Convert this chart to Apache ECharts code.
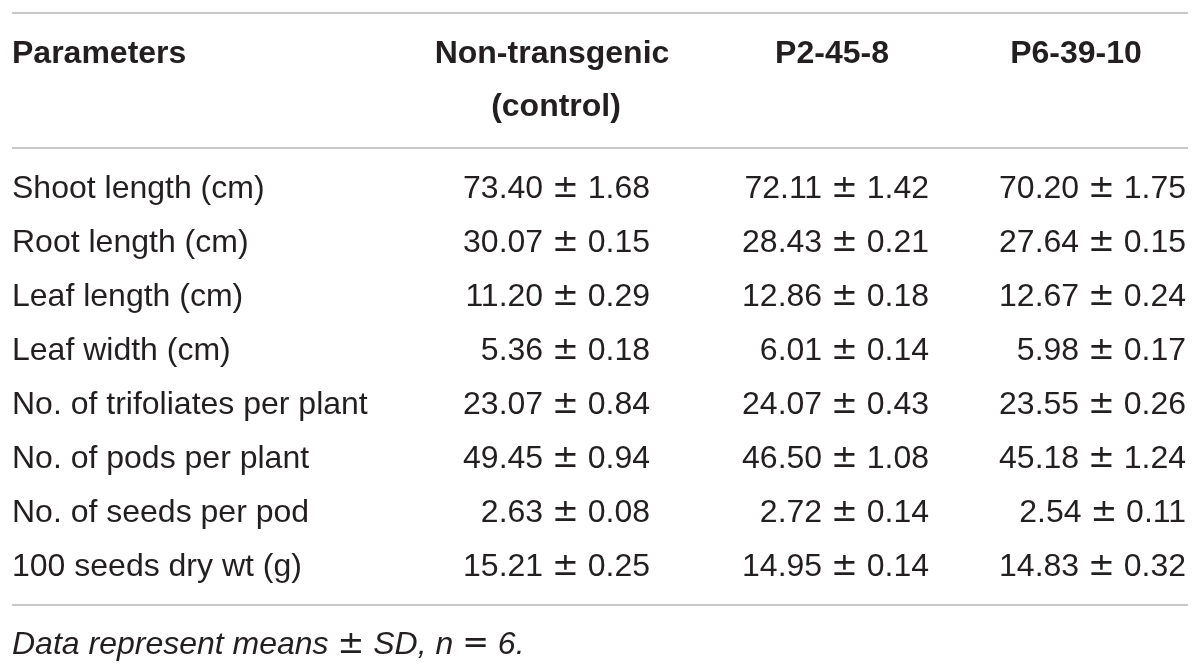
<!DOCTYPE html>
<html>
<head>
<meta charset="utf-8">
<title>Table</title>
<script src="https://cdn.jsdelivr.net/npm/echarts@6/dist/echarts.min.js"></script>
<style>
  html, body { margin: 0; padding: 0; background: #fff; }
  #table { width: 1200px; height: 668px; }
</style>
</head>
<body>
<div id="table"></div>
<script>
// table content
var columns = ['Parameters', 'Non-transgenic\n(control)', 'P2-45-8', 'P6-39-10'];
var params = [
  'Shoot length (cm)',
  'Root length (cm)',
  'Leaf length (cm)',
  'Leaf width (cm)',
  'No. of trifoliates per plant',
  'No. of pods per plant',
  'No. of seeds per pod',
  '100 seeds dry wt (g)'
];
var controlMean = [73.40, 30.07, 11.20, 5.36, 23.07, 49.45, 2.63, 15.21];
var controlSD   = [1.68, 0.15, 0.29, 0.18, 0.84, 0.94, 0.08, 0.25];
var p2Mean = [72.11, 28.43, 12.86, 6.01, 24.07, 46.50, 2.72, 14.95];
var p2SD   = [1.42, 0.21, 0.18, 0.14, 0.43, 1.08, 0.14, 0.14];
var p6Mean = [70.20, 27.64, 12.67, 5.98, 23.55, 45.18, 2.54, 14.83];
var p6SD   = [1.75, 0.15, 0.24, 0.17, 0.26, 1.24, 0.11, 0.32];

var means = [controlMean, p2Mean, p6Mean];
var sds = [controlSD, p2SD, p6SD];

// layout
var FONT = "'Liberation Sans', Arial, Helvetica, sans-serif";
var SIZE = 32;
var INK = '#231f20';
var RULE = '#c8c8c8';
var colX = [12, 650, 929, 1186];       // anchor of each column
var headX = [12, 552, 832, 1076];      // header centres

// wide math signs like the original typeface
var signStyle = { fontFamily: 'DejaVu Sans', fontSize: SIZE, fill: INK };
var rich = { s: signStyle, si: { fontFamily: 'DejaVu Sans', fontSize: SIZE, fill: INK, fontStyle: 'italic' } };

function fmt(m, s) {
  return m.toFixed(2) + ' {s|\u00b1} ' + s.toFixed(2);
}

var cells = [];
for (var r = 0; r < params.length; r++) {
  for (var c = 0; c < columns.length; c++) {
    cells.push([c, r]);
  }
}

function rule(y) {
  return {
    type: 'line',
    shape: { x1: 12, y1: y, x2: 1188, y2: y },
    style: { stroke: RULE, lineWidth: 2 }
  };
}

var graphics = [rule(13), rule(148), rule(605)];
columns.forEach(function (name, i) {
  var lines = name.split('\n');
  lines.forEach(function (t, k) {
    graphics.push({
      type: 'text',
      x: headX[i] + (k === 1 ? 4 : 0),
      y: 54 + k * 53,
      style: {
        text: t,
        font: 'bold ' + SIZE + 'px ' + FONT,
        fill: INK,
        align: i === 0 ? 'left' : 'center',
        verticalAlign: 'middle'
      }
    });
  });
});
graphics.push({
  type: 'text',
  x: 12,
  y: 645,
  style: {
    text: 'Data represent means {s|\u00b1} SD, n {s|=} 6.',
    font: 'italic ' + SIZE + 'px ' + FONT,
    fill: INK,
    rich: rich,
    align: 'left',
    verticalAlign: 'middle'
  }
});

var chart = echarts.init(document.getElementById('table'), null, { renderer: 'canvas' });
chart.setOption({
  animation: false,
  grid: { left: 0, right: 0, top: 162, height: 432 },
  xAxis: { type: 'value', min: 0, max: 3, show: false },
  yAxis: {
    type: 'category',
    inverse: true,
    data: params,
    show: false
  },
  graphic: graphics,
  series: [{
    type: 'custom',
    data: cells,
    renderItem: function (p, api) {
      var c = api.value(0);
      var r = api.value(1);
      var y = api.coord([0, r])[1];
      var txt = c === 0 ? params[r] : fmt(means[c - 1][r], sds[c - 1][r]);
      return {
        type: 'text',
        x: colX[c],
        y: y,
        style: {
          text: txt,
          font: SIZE + 'px ' + FONT,
          fill: INK,
          rich: rich,
          align: c === 0 ? 'left' : 'right',
          verticalAlign: 'middle'
        }
      };
    }
  }]
});
</script>
</body>
</html>
